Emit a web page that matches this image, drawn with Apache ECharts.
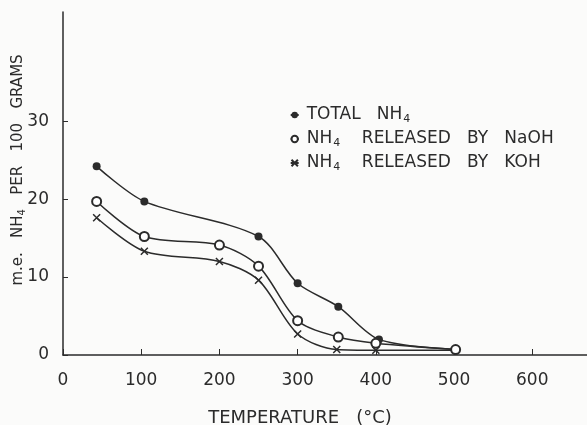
<!DOCTYPE html>
<html><head><meta charset="utf-8">
<script src="https://cdn.jsdelivr.net/npm/echarts@6/dist/echarts.min.js"></script>
<style>html,body{margin:0;padding:0;background:#fbfbfa}#c{width:587px;height:425px}</style>
</head><body><div id="c"></div>
<script>
const totalX = [43, 104, 250, 300, 352, 404, 502];
const totalVals = [24.2, 19.7, 15.2, 9.2, 6.2, 2.0, 0.7];
const naohX = [43, 104, 200, 250, 300, 352, 400, 502];
const naohVals = [19.7, 15.2, 14.1, 11.4, 4.4, 2.3, 1.5, 0.7];
const kohX = [43, 104, 200, 250, 300, 350, 400, 502];
const kohVals = [17.6, 13.3, 12.0, 9.6, 2.7, 0.7, 0.6, 0.6];
const kohMarked = [true, true, true, true, true, true, true, false];
const xTicks = [0, 100, 200, 300, 400, 500, 600];
const yTicks = [0, 10, 20, 30];
const names = ['TOTAL   NH{s|4}', 'NH{s|4}    RELEASED   BY   NaOH', 'NH{s|4}    RELEASED   BY   KOH'];

const ink = '#2b2b2b';
const font = 'DejaVu Sans';
const pair = (xs, ys) => xs.map((x, i) => [x, ys[i]]);
const rich = { s: { fontSize: 11, verticalAlign: 'bottom', lineHeight: 20, padding: [9, 0, 0, 1], fontFamily: font, color: ink } };

const chart = echarts.init(document.getElementById('c'));
chart.setOption({
  backgroundColor: '#fbfbfa',
  animation: false,
  textStyle: { fontFamily: font, color: ink },
  grid: { left: 63, right: 0, top: 12, bottom: 70 },
  xAxis: {
    type: 'value', min: 0, max: 670, interval: 100,
    axisLine: { lineStyle: { color: ink, width: 1.5 } },
    axisTick: { inside: true, length: 6, lineStyle: { color: ink }, customValues: xTicks },
    axisLabel: { customValues: xTicks, color: ink, fontSize: 17, margin: 17, fontFamily: font },
    splitLine: { show: false }
  },
  yAxis: {
    type: 'value', min: 0, max: 44, interval: 10,
    axisLine: { show: true, lineStyle: { color: ink, width: 1.5 } },
    axisTick: { show: true, inside: true, length: 5, lineStyle: { color: ink }, customValues: yTicks },
    axisLabel: { customValues: yTicks, color: ink, fontSize: 17, margin: 14, fontFamily: font },
    splitLine: { show: false }
  },
  legend: {
    orient: 'vertical', left: 284, top: 100, itemGap: 4, itemWidth: 8, itemHeight: 8,
    textStyle: { fontSize: 17, lineHeight: 20, color: ink, fontFamily: font, rich: rich, padding: [0, 0, 0, 3] },
    data: names
  },
  graphic: [
    { type: 'text', x: 18, y: 170, rotation: Math.PI / 2,
      style: { text: 'm.e.   NH{s|4}   PER   100   GRAMS', fill: ink, font: '15px DejaVu Sans', align: 'center', verticalAlign: 'middle',
        rich: { s: { fontSize: 10, fill: ink, fontFamily: font, padding: [8, 0, 0, 0] } } } },
    { type: 'text', x: 300, y: 418,
      style: { text: 'TEMPERATURE   (°C)', fill: ink, font: '18px DejaVu Sans', align: 'center', verticalAlign: 'middle' } }
  ],
  series: [
    { name: names[0], type: 'line', data: pair(totalX, totalVals), smooth: 0.3,
      symbol: 'circle', symbolSize: 8, lineStyle: { color: ink, width: 1.5 }, itemStyle: { color: ink } },
    { name: names[1], type: 'line', data: pair(naohX, naohVals), smooth: 0.3,
      symbol: 'emptyCircle', symbolSize: 9, lineStyle: { color: ink, width: 1.5 },
      itemStyle: { color: ink, borderColor: ink, borderWidth: 1.5 } },
    { name: names[2], type: 'line',
      data: pair(kohX, kohVals).map((p, i) => kohMarked[i] ? p : { value: p, symbol: 'none' }), smooth: 0.3,
      symbol: 'path://M0,0L10,10M10,0L0,10', symbolSize: 7, lineStyle: { color: ink, width: 1.5 },
      itemStyle: { color: 'none', borderColor: ink, borderWidth: 1.5 } }
  ]
});
</script></body></html>
